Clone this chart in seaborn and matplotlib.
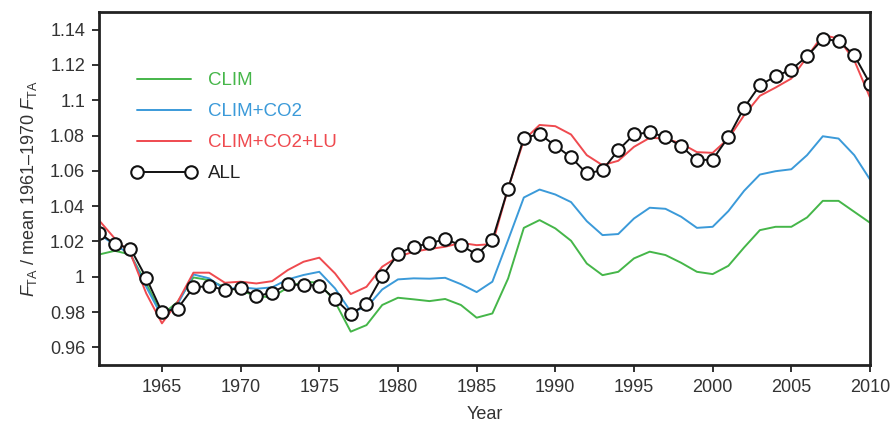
import numpy as np
import pandas as pd
import matplotlib
matplotlib.use("Agg")
import matplotlib.pyplot as plt
import seaborn as sns

years = list(range(1961, 2011))

clim = [1.0126, 1.0147, 1.0126, 0.9962, 0.9783, 0.9858, 0.9996, 0.9981, 0.9940, 0.9921,
        0.9891, 0.9883, 0.9940, 0.9972, 0.9966, 0.9858, 0.9689, 0.9726, 0.9840, 0.9881,
        0.9872, 0.9862, 0.9874, 0.9840, 0.9768, 0.9792, 0.9990, 1.0277, 1.0321, 1.0274,
        1.0204, 1.0075, 1.0009, 1.0028, 1.0104, 1.0142, 1.0123, 1.0079, 1.0028, 1.0015,
        1.0062, 1.0166, 1.0264, 1.0283, 1.0283, 1.0336, 1.0430, 1.0430, 1.0368, 1.0306]

clim_co2 = [1.0242, 1.0180, 1.0128, 0.9943, 0.9774, 0.9845, 1.0013, 0.9991, 0.9928, 0.9940,
            0.9932, 0.9940, 0.9985, 1.0010, 1.0028, 0.9934, 0.9802, 0.9826, 0.9928, 0.9985,
            0.9991, 0.9989, 0.9994, 0.9958, 0.9913, 0.9972, 1.0208, 1.0449, 1.0494, 1.0466,
            1.0423, 1.0315, 1.0236, 1.0242, 1.0330, 1.0391, 1.0385, 1.0340, 1.0277, 1.0283,
            1.0372, 1.0487, 1.0579, 1.0598, 1.0609, 1.0689, 1.0796, 1.0783, 1.0689, 1.0551]

clim_co2_lu = [1.0320, 1.0217, 1.0132, 0.9906, 0.9736, 0.9858, 1.0023, 1.0023, 0.9966, 0.9972,
               0.9962, 0.9975, 1.0038, 1.0085, 1.0108, 1.0019, 0.9902, 0.9943, 1.0057, 1.0113,
               1.0142, 1.0157, 1.0170, 1.0192, 1.0179, 1.0185, 1.0500, 1.0774, 1.0860, 1.0853,
               1.0806, 1.0689, 1.0632, 1.0657, 1.0736, 1.0787, 1.0783, 1.0755, 1.0706, 1.0702,
               1.0783, 1.0915, 1.1025, 1.1072, 1.1123, 1.1245, 1.1370, 1.1349, 1.1226, 1.1015]

all_runs = [1.0249, 1.0185, 1.0160, 0.9994, 0.9800, 0.9820, 0.9940, 0.9947, 0.9925, 0.9934,
            0.9890, 0.9910, 0.9957, 0.9953, 0.9950, 0.9874, 0.9789, 0.9845, 1.0004, 1.0128,
            1.0170, 1.0189, 1.0213, 1.0179, 1.0126, 1.0208, 1.0500, 1.0787, 1.0808, 1.0743,
            1.0677, 1.0585, 1.0604, 1.0717, 1.0806, 1.0819, 1.0791, 1.0740, 1.0660, 1.0664,
            1.0791, 1.0958, 1.1085, 1.1136, 1.1174, 1.1249, 1.1347, 1.1336, 1.1255, 1.1094]

series_names = ["CLIM", "CLIM+CO2", "CLIM+CO2+LU", "ALL"]
colors = ["#45b649", "#3b9ad9", "#ef4a4f", "#111111"]
x_ticks = [1965, 1970, 1975, 1980, 1985, 1990, 1995, 2000, 2005, 2010]
y_ticks = [0.96, 0.98, 1.00, 1.02, 1.04, 1.06, 1.08, 1.10, 1.12, 1.14]
y_tick_labels = ["0.96", "0.98", "1", "1.02", "1.04", "1.06", "1.08", "1.1", "1.12", "1.14"]

df = pd.DataFrame({"Year": years, "CLIM": clim, "CLIM+CO2": clim_co2,
                   "CLIM+CO2+LU": clim_co2_lu, "ALL": all_runs})

sns.set_style("ticks")
plt.rcParams["font.family"] = ["Liberation Sans", "DejaVu Sans"]
plt.rcParams["mathtext.fontset"] = "custom"
plt.rcParams["mathtext.rm"] = "Liberation Sans"
plt.rcParams["mathtext.it"] = "Liberation Sans:italic"
plt.rcParams["mathtext.bf"] = "Liberation Sans:bold"

fig = plt.figure(figsize=(8.93, 4.25), dpi=100)
ax = fig.add_axes([99 / 893, 1 - 365 / 425, (870 - 99) / 893, (365 - 12) / 425])

for name, col in zip(series_names[:3], colors[:3]):
    sns.lineplot(data=df, x="Year", y=name, ax=ax, color=col, lw=1.4, label=name)
sns.lineplot(data=df, x="Year", y="ALL", ax=ax, color=colors[3], lw=1.4, label="ALL",
             marker="o", markersize=9, markerfacecolor="white",
             markeredgecolor="#111111", markeredgewidth=1.5)

ax.set_xlim(1961, 2010)
ax.set_ylim(0.95, 1.15)
ax.set_xticks(x_ticks)
ax.set_yticks(y_ticks)
ax.set_yticklabels(y_tick_labels)
ax.tick_params(axis="both", labelsize=13, colors="#222222", labelcolor="#333333",
               direction="out", length=5, width=1.3, pad=5)
for s in ax.spines.values():
    s.set_linewidth(2.0)
    s.set_color("#222222")
ax.set_xlabel("Year", fontsize=13, color="#333333", labelpad=7)
ax.set_ylabel(r"$F_{\mathrm{TA}}$ / mean 1961–1970 $F_{\mathrm{TA}}$", fontsize=13,
              color="#333333", labelpad=8)

leg = ax.legend(loc="upper left", bbox_to_anchor=(0.020, 0.877), frameon=False,
                fontsize=13.5, handlelength=3.5, handletextpad=0.6, labelspacing=0.74,
                numpoints=2, labelcolor=["#45b649", "#3b9ad9", "#ef4a4f", "#222222"])

fig.savefig("out.png", dpi=100)
